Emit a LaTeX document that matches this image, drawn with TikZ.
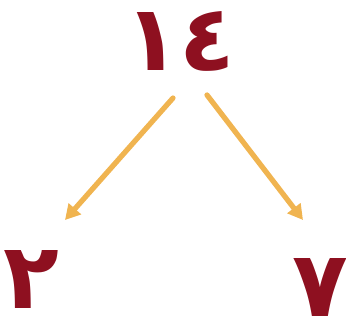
\documentclass[tikz,border=0pt]{standalone}
\usepackage{fontspec}
\usepackage{xcolor}
\usetikzlibrary{arrows.meta}
\newfontfamily\arabicfont[Script=Arabic]{DejaVu Sans}
\definecolor{numred}{HTML}{8E1020}
\definecolor{arrgold}{HTML}{F0B450}

\begin{document}
\begin{tikzpicture}[
          num/.style={font=\arabicfont\bfseries\fontsize{78}{80}\selectfont, text=numred, inner sep=0pt, text height=2cm, text depth=0pt},
          arr/.style={-{Triangle[length=4.5mm, width=4.8mm]}, line width=4.5pt, arrgold, line cap=round}
        ]
        \useasboundingbox (0,0) rectangle (10.38,9.72);
        \node[num] (n14) at (5.4, 8.6) {١٤};
        \node[num] (n2) at (0.95, 1.45) {٢};
        \node[num] (n7) at (9.62, 1.22) {٧};
        \coordinate (l1) at (5.19, 6.78);
        \coordinate (l2) at (1.95, 3.12);
        \coordinate (r1) at (6.21, 6.87);
        \coordinate (r2) at (9.09, 3.12);
        \draw[arr] (l1) -- (l2);
        \draw[arr] (r1) -- (r2);
        \end{tikzpicture}
\end{document}
